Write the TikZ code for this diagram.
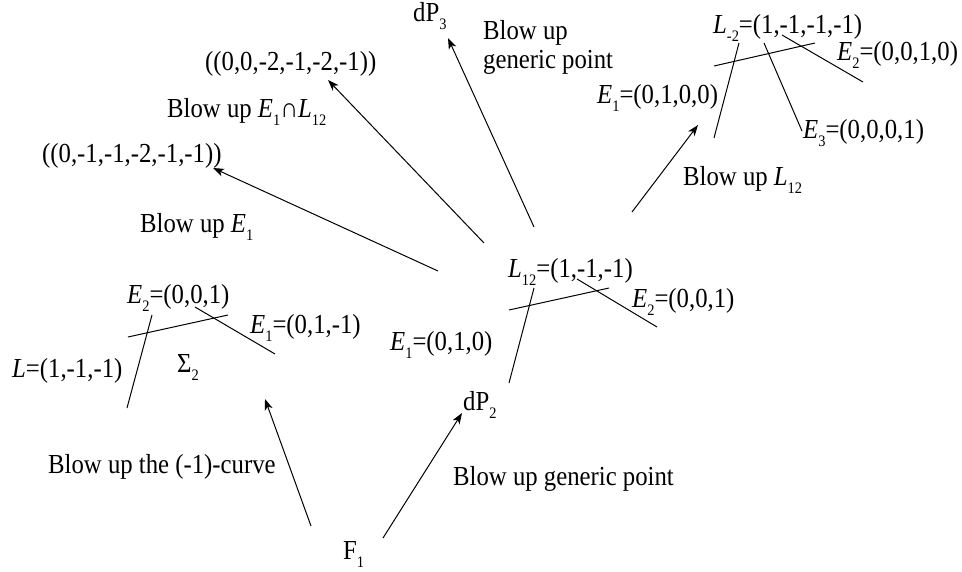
\documentclass[tikz,border=0pt]{standalone}
\usepackage{fontspec}
\setmainfont{Liberation Serif}[FakeStretch=0.9]
\usetikzlibrary{arrows.meta}
\newcommand\sbs[1]{\raisebox{-0.3em}{\fontsize{16}{16}\selectfont #1}}
\begin{document}
\begin{tikzpicture}[x=1pt,y=-1pt,
  txt/.style={inner sep=0pt,anchor=base west,font=\fontsize{27.5}{32}\selectfont},
  curve/.style={line width=1pt},
  blow/.style={line width=1pt,-{Stealth[length=11pt,width=8pt,inset=3pt]}}]
\useasboundingbox (0,0) rectangle (962,571);
% ---- labels ----
\node[txt] (F1) at (343,559) {F\sbs{1}};
\node[txt] (dP2) at (463,410) {dP\sbs{2}};
\node[txt] (dP3) at (413,21) {dP\sbs{3}};
\node[txt] (lcurve) at (48,473) {Blow up the (-1)-curve};
\node[txt] (lgen) at (453,485) {Blow up generic point};
\node[txt] (lgen2a) at (483,39) {Blow up};
\node[txt] (lgen2b) at (483,68) {generic point};
\node[txt] (lE1) at (140,232) {Blow up \textit{E}\sbs{1}};
\node[txt] (lEL) at (167,117) {Blow up \textit{E}\sbs{1}∩\textit{L}\sbs{12}};
\node[txt] (lL12) at (683,185) {Blow up \textit{L}\sbs{12}};
\node[txt] (s1) at (42,162) {((0,-1,-1,-2,-1,-1))};
\node[txt] (s2) at (205,70) {((0,0,-2,-1,-2,-1))};
% Sigma_2 diagram
\node[txt] (aE2) at (127,303) {\textit{E}\sbs{2}=(0,0,1)};
\node[txt] (aE1) at (250,333) {\textit{E}\sbs{1}=(0,1,-1)};
\node[txt] (aL) at (12,377) {\textit{L}=(1,-1,-1)};
\node[txt] (aS) at (177,372) {Σ\sbs{2}};
% dP2 diagram
\node[txt] (bL) at (508,277) {\textit{L}\sbs{12}=(1,-1,-1)};
\node[txt] (bE2) at (632,307) {\textit{E}\sbs{2}=(0,0,1)};
\node[txt] (bE1) at (390,350) {\textit{E}\sbs{1}=(0,1,0)};
% blown-up L12 diagram
\node[txt] (cL) at (713,33) {\textit{L}\sbs{-2}=(1,-1,-1,-1)};
\node[txt] (cE2) at (837,60) {\textit{E}\sbs{2}=(0,0,1,0)};
\node[txt] (cE1) at (597,103) {\textit{E}\sbs{1}=(0,1,0,0)};
\node[txt] (cE3) at (803,138) {\textit{E}\sbs{3}=(0,0,0,1)};
% ---- curves ----
\draw[curve] (152,315) -- (127,408);
\draw[curve] (128,337) -- (228,315);
\draw[curve] (195,307) -- (275,354);
\draw[curve] (534,288) -- (509,383);
\draw[curve] (509,310) -- (609,288);
\draw[curve] (577,279) -- (657,327);
\draw[curve] (739,43) -- (714,138);
\draw[curve] (714,66) -- (815,43);
\draw[curve] (782,35) -- (863,82);
\draw[curve] (764,43) -- (802,131);
% ---- arrow ends ----
\coordinate (t1) at (311,526); \coordinate (h1) at (265,399);
\coordinate (t2) at (383,538); \coordinate (h2) at (462,413);
\coordinate (t3) at (438,271); \coordinate (h3) at (213,168);
\coordinate (t4) at (484,243); \coordinate (h4) at (328,80);
\coordinate (t5) at (534,227); \coordinate (h5) at (448,38);
\coordinate (t6) at (632,212); \coordinate (h6) at (698,125);
\draw[blow] (t1) -- (h1);
\draw[blow] (t2) -- (h2);
\draw[blow] (t3) -- (h3);
\draw[blow] (t4) -- (h4);
\draw[blow] (t5) -- (h5);
\draw[blow] (t6) -- (h6);
\end{tikzpicture}
\end{document}
